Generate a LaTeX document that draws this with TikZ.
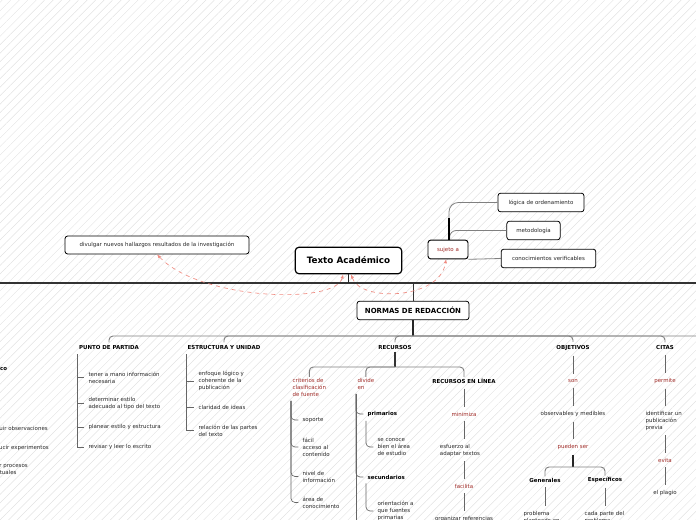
\documentclass[tikz,border=0pt]{standalone}
\usepackage{fontspec}
\setmainfont{DejaVu Sans}
\usetikzlibrary{positioning, arrows.meta, patterns.meta}
\definecolor{rednode}{RGB}{160,42,38}
\definecolor{pastelred}{RGB}{240,140,130}
\definecolor{hatch}{RGB}{226,226,226}

\begin{document}
\begin{tikzpicture}[x=0.75pt, y=-0.75pt,
  every node/.style={inner sep=1pt},
  sm/.style={font=\fontsize{4.1}{5.25}\selectfont, text=black!85, align=left},
  hd/.style={sm, font=\fontsize{4.1}{5.25}\selectfont\bfseries, text=black},
  rd/.style={sm, text=rednode},
  box/.style={draw, rounded corners=2pt, fill=white, line width=0.6pt, sm, inner sep=0pt, minimum height=14pt},
  link/.style={draw=gray!80!black, line width=0.5pt},
  spine/.style={link, shorten >=2pt},
  curvy/.style={link, rounded corners=3pt, shorten >=2pt},
  chain/.style={link, shorten <=2.5pt, shorten >=2.5pt},
  bar/.style={draw=gray, line width=0.7pt, rounded corners=3pt},
  ref/.style={pastelred, dashed, line width=0.5pt, {Latex[length=3pt,width=2.5pt]}-{Latex[length=3pt,width=2.5pt]}}
]
\useasboundingbox (0,0) rectangle (696,520);
\clip (0,0) rectangle (696,520);
\fill[pattern={Lines[angle=45,distance=4.5pt,line width=0.35pt]}, pattern color=hatch] (0,0) rectangle (696,520);

% top level
\coordinate (axis) at (348,283);
\draw[line width=1.6pt, black!80] (0,283) -- (696,283);

\node[box, font=\fontsize{6.6}{8}\selectfont\bfseries, text=black, minimum width=80pt, minimum height=20pt, line width=0.9pt, rounded corners=3pt] (txt) at (348.5,260.5) {Texto Académico};
\node[box, minimum width=138pt, minimum height=13.5pt] (div) at (157,245) {divulgar nuevos hallazgos resultados de la investigación};
\node[box, text=rednode, minimum width=30pt, line width=0.7pt] (suj) at (448,249.5) {sujeto a};
\node[box, minimum width=64.5pt] (log) at (541,202.5) {lógica de ordenamiento};
\node[box, minimum width=40pt] (met) at (533.5,230.5) {metodología};
\node[box, minimum width=71pt] (con) at (548.5,258.5) {conocimientos verificables};
\node[box, font=\fontsize{5.25}{6}\selectfont\bfseries, text=black, minimum width=84pt] (nor) at (413,310.5) {NORMAS DE REDACCIÓN};

\draw[line width=1pt, black!85] (txt.south) -- (txt.south |- axis);
\draw[link, draw=black!80] (nor.north) -- (nor.north |- axis);

% sujeto a
\draw[gray, line width=0.6pt, rounded corners=7pt] ([xshift=0.75pt]suj.north) |- (log.west);
\draw[gray, line width=0.6pt, rounded corners=5pt] ([xshift=1.2pt]suj.north) |- (met.west);
\draw[black, line width=1.3pt] ([xshift=0.75pt]suj.north) -- ++(0,-22);
\draw[gray, line width=0.6pt] (suj.south east) -- (con.west);

% references
\draw[ref] ([xshift=-4pt]txt.south) .. controls (335,305) and (200,300) .. (div.south);
\draw[ref] ([xshift=2pt]txt.south) .. controls (360,302) and (440,300) .. ([xshift=-1.5pt]suj.south);

% normas
\coordinate (mb) at (413,336);
\coordinate (mbend) at (700,336);
\draw[line width=1pt, black!85] (nor.south) -- (mb);
\node[hd] (ppar) at (109,348) {PUNTO DE PARTIDA};
\node[hd] (est) at (224,348) {ESTRUCTURA Y UNIDAD};
\node[hd] (rec) at (395,348) {RECURSOS};
\node[hd] (obj) at (573,348) {OBJETIVOS};
\node[hd] (cit) at (665,348) {CITAS};
\draw[bar, shorten <=1.5pt] (ppar.north) |- (mbend);
\foreach \b in {est, rec, obj, cit} \draw[bar, shorten <=1.5pt] (\b.north) |- (mb);

% left, cut off
\node[hd, anchor=east, inner sep=0pt] (mc) at (7.5,368) {método científico};
\node[sm, anchor=east, inner sep=0pt] (lf1) at (48,428) {construir observaciones};
\node[sm, anchor=east, inner sep=0pt] (lf2) at (49,448) {conducir experimentos};
\node[sm, anchor=east, inner sep=0pt] (lf3) at (28,470.5) {generar procesos\\conceptuales};

% punto de partida
\node[sm, anchor=west] (pp1) at (87,377.5) {tener a mano información\\necesaria};
\node[sm, anchor=west] (pp2) at (87,403.5) {determinar estilo\\adecuado al tipo del texto};
\node[sm, anchor=west] (pp3) at (87,427) {planear estilo y estructura};
\node[sm, anchor=west] (pp4) at (87,447) {revisar y leer lo escrito};
\foreach \c in {pp1,pp2,pp3,pp4} \draw[spine] ([yshift=-2pt]ppar.south west) |- (\c.west);

% estructura y unidad
\node[sm, anchor=west] (es1) at (197,381) {enfoque lógico y\\coherente de la\\publicación};
\node[sm, anchor=west] (es2) at (197,407) {claridad de ideas};
\node[sm, anchor=west] (es3) at (197,430.5) {relación de las partes\\del texto};
\foreach \c in {es1,es2,es3} \draw[spine] ([yshift=-2pt]est.south west) |- (\c.west);

% recursos
\coordinate (rb) at (395,367);
\draw[line width=0.8pt, black!80] (rec.south) -- (rb);
\node[rd, anchor=west] (cri) at (291,387.5) {criterios de\\clasificación\\de fuente};
\node[rd, anchor=west] (dvd) at (356,384) {divide\\en};
\node[hd] (rel) at (464,381) {RECURSOS EN LÍNEA};
\draw[bar] (cri.north) |- (rb) -| (rel.north);
\draw[bar] (dvd.north) |- (rb);

\node[sm, anchor=west] (cr1) at (301,420) {soporte};
\node[sm, anchor=west] (cr2) at (301,447) {fácil\\acceso al\\contenido};
\node[sm, anchor=west] (cr3) at (301,476.5) {nivel de\\información};
\node[sm, anchor=west] (cr4) at (301,502.5) {área de\\conocimiento};
\foreach \c in {cr1,cr2,cr3,cr4} \draw[curvy] ([yshift=-2pt]cri.south west) |- (\c.west);

\node[hd, anchor=west] (pri) at (366,414) {primarios};
\node[hd, anchor=west] (sec) at (366,477) {secundarios};
\coordinate (dvdend) at (357,525);
\foreach \c in {pri,sec} \draw[curvy] ([yshift=-2pt]dvd.south west) |- (\c.west);
\draw[link] ([yshift=-2pt]dvd.south west) -- (dvd.south west |- dvdend);
\node[sm, anchor=west] (pr1) at (376,447) {se conoce\\bien el área\\de estudio};
\node[sm, anchor=west] (se1) at (376,511) {orientación a\\que fuentes\\primarias};
\draw[curvy] ([yshift=-2pt]pri.south west) |- (pr1.west);
\draw[curvy] ([yshift=-2pt]sec.south west) |- (se1.west);

\node[rd] (mnz) at (464,414) {minimiza};
\node[sm] (esf) at (460,450) {esfuerzo al\\adaptar textos};
\node[rd] (fac) at (464,486) {facilita};
\node[sm] (org) at (464,519) {organizar referencias};
\draw[chain] (rel) -- (mnz);
\draw[chain] (mnz.south) -- (mnz.south |- esf.north);
\draw[chain] (esf.south -| fac) -- (fac.north);
\draw[chain] (fac.south) -- (fac.south |- org.north);

% objetivos
\node[rd] (son) at (573,381) {son};
\node[sm] (obs) at (573,414) {observables y medibles};
\node[rd] (pse) at (573,447) {pueden ser};
\node[hd] (gen) at (545,480) {Generales};
\node[hd] (esp) at (605,480) {Específicos};
\node[sm, anchor=west] (ge1) at (522,517) {problema\\planteado en};
\node[sm, anchor=west] (es4) at (583,517) {cada parte del\\problema};
\coordinate (ob) at (573,467);
\draw[chain] (obj) -- (son);
\draw[chain] (son) -- (obs);
\draw[chain] (obs) -- (pse);
\draw[line width=0.8pt, black!85, shorten <=2.5pt] (pse) -- (ob);
\draw[bar] (gen.north) |- (ob) -| (esp.north);
\draw[chain] (gen.south) -- (gen.south |- ge1.north);
\draw[chain] (esp.south) -- (esp.south |- es4.north);

% citas
\node[rd] (prm) at (665,381) {permite};
\node[sm, anchor=west] (idn) at (644,420.5) {identificar un\\publicación\\previa};
\node[rd] (evt) at (665,460) {evita};
\node[sm] (plg) at (665,493) {el plagio};
\draw[chain] (cit) -- (prm);
\draw[chain] (prm.south) -- (prm.south |- idn.north);
\draw[chain] (evt.north |- idn.south) -- (evt.north);
\draw[chain] (evt) -- (plg);
\end{tikzpicture}
\end{document}
